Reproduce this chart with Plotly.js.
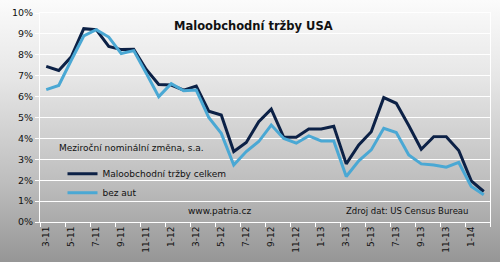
<!DOCTYPE html>
<html>
<head>
<meta charset="utf-8">
<script src="https://cdn.plot.ly/plotly-3.0.1.min.js"></script>
<style>
html,body{margin:0;padding:0;}
#chart{width:500px;height:262px;background:linear-gradient(to bottom,#fbfbfb 0%,#e6e6e6 30%,#bdbdbd 70%,#969696 100%);}
</style>
</head>
<body>
<div id="chart"></div>
<script>
const months = ["3-11","4-11","5-11","6-11","7-11","8-11","9-11","10-11","11-11","12-11",
"1-12","2-12","3-12","4-12","5-12","6-12","7-12","8-12","9-12","10-12","11-12","12-12",
"1-13","2-13","3-13","4-13","5-13","6-13","7-13","8-13","9-13","10-13","11-13","12-13",
"1-14","2-14"];
const totalSales = [7.45,7.25,7.9,9.25,9.2,8.4,8.25,8.27,7.3,6.58,6.55,6.31,6.5,5.3,5.12,3.37,3.8,4.8,5.4,4.05,4.05,4.45,4.45,4.58,2.78,3.69,4.32,5.95,5.68,4.62,3.48,4.08,4.08,3.42,1.97,1.46];
const exAutos = [6.33,6.53,7.74,8.9,9.2,8.85,8.06,8.2,7.12,6.0,6.62,6.28,6.31,5.0,4.24,2.73,3.37,3.85,4.64,4.0,3.77,4.12,3.88,3.88,2.18,2.93,3.45,4.48,4.28,3.21,2.78,2.73,2.62,2.85,1.7,1.3];
const yTicks = [0,1,2,3,4,5,6,7,8,9,10];
const yTickText = yTicks.map(v => v + "%");

const font = "DejaVu Sans, Verdana, sans-serif";
const data = [
  {x: months, y: totalSales, type: "scatter", mode: "lines", name: "Maloobchodní tržby celkem",
   line: {color: "#0c2146", width: 3}},
  {x: months, y: exAutos, type: "scatter", mode: "lines", name: "bez aut",
   line: {color: "#4aa8d4", width: 3}}
];
const layout = {
  width: 500, height: 262,
  margin: {l: 40, r: 10, t: 13, b: 40},
  paper_bgcolor: "rgba(0,0,0,0)",
  plot_bgcolor: "rgba(0,0,0,0)",
  showlegend: true,
  legend: {
    x: 0.05, y: 0.3, xanchor: "left", yanchor: "top",
    bgcolor: "rgba(0,0,0,0)",
    font: {family: font, size: 9, color: "#111"},
    tracegroupgap: 0, itemwidth: 30
  },
  xaxis: {
    type: "category", categoryorder: "array", categoryarray: months,
    range: [-0.5, 35.5],
    tickmode: "linear", tick0: 0, dtick: 2,
    tickson: "boundaries",
    ticks: "outside", ticklen: 4, tickcolor: "#ffffff", tickwidth: 1,
    tickangle: -90,
    tickfont: {family: font, size: 9, color: "#111"},
    showgrid: false, showline: true, linecolor: "#ffffff", linewidth: 1, mirror: true,
    zeroline: false
  },
  yaxis: {
    range: [0, 10],
    tickmode: "array", tickvals: yTicks, ticktext: yTickText,
    ticks: "outside", ticklen: 4, tickcolor: "#ffffff",
    tickfont: {family: font, size: 9.5, color: "#111"},
    showgrid: true, gridcolor: "#ffffff", gridwidth: 1,
    showline: true, linecolor: "#ffffff", linewidth: 1, mirror: true,
    zeroline: false
  },
  annotations: [
    {text: "<b>Maloobchodní tržby USA</b>", xref: "paper", yref: "paper", x: 0.475, y: 0.94,
     xanchor: "center", yanchor: "middle", showarrow: false,
     font: {family: font, size: 11.5, color: "#111"}},
    {text: "Meziroční nominální změna, s.a.", xref: "paper", yref: "paper", x: 0.038, y: 0.354,
     xanchor: "left", yanchor: "middle", showarrow: false,
     font: {family: font, size: 9, color: "#111"}},
    {text: "www.patria.cz", xref: "paper", yref: "paper", x: 0.399, y: 0.055,
     xanchor: "center", yanchor: "middle", showarrow: false,
     font: {family: font, size: 9, color: "#111"}},
    {text: "Zdroj dat: US Census Bureau", xref: "paper", yref: "paper", x: 0.955, y: 0.055,
     xanchor: "right", yanchor: "middle", showarrow: false,
     font: {family: font, size: 8.5, color: "#111"}}
  ]
};
Plotly.newPlot("chart", data, layout, {displayModeBar: false, staticPlot: true});
</script>
</body>
</html>
